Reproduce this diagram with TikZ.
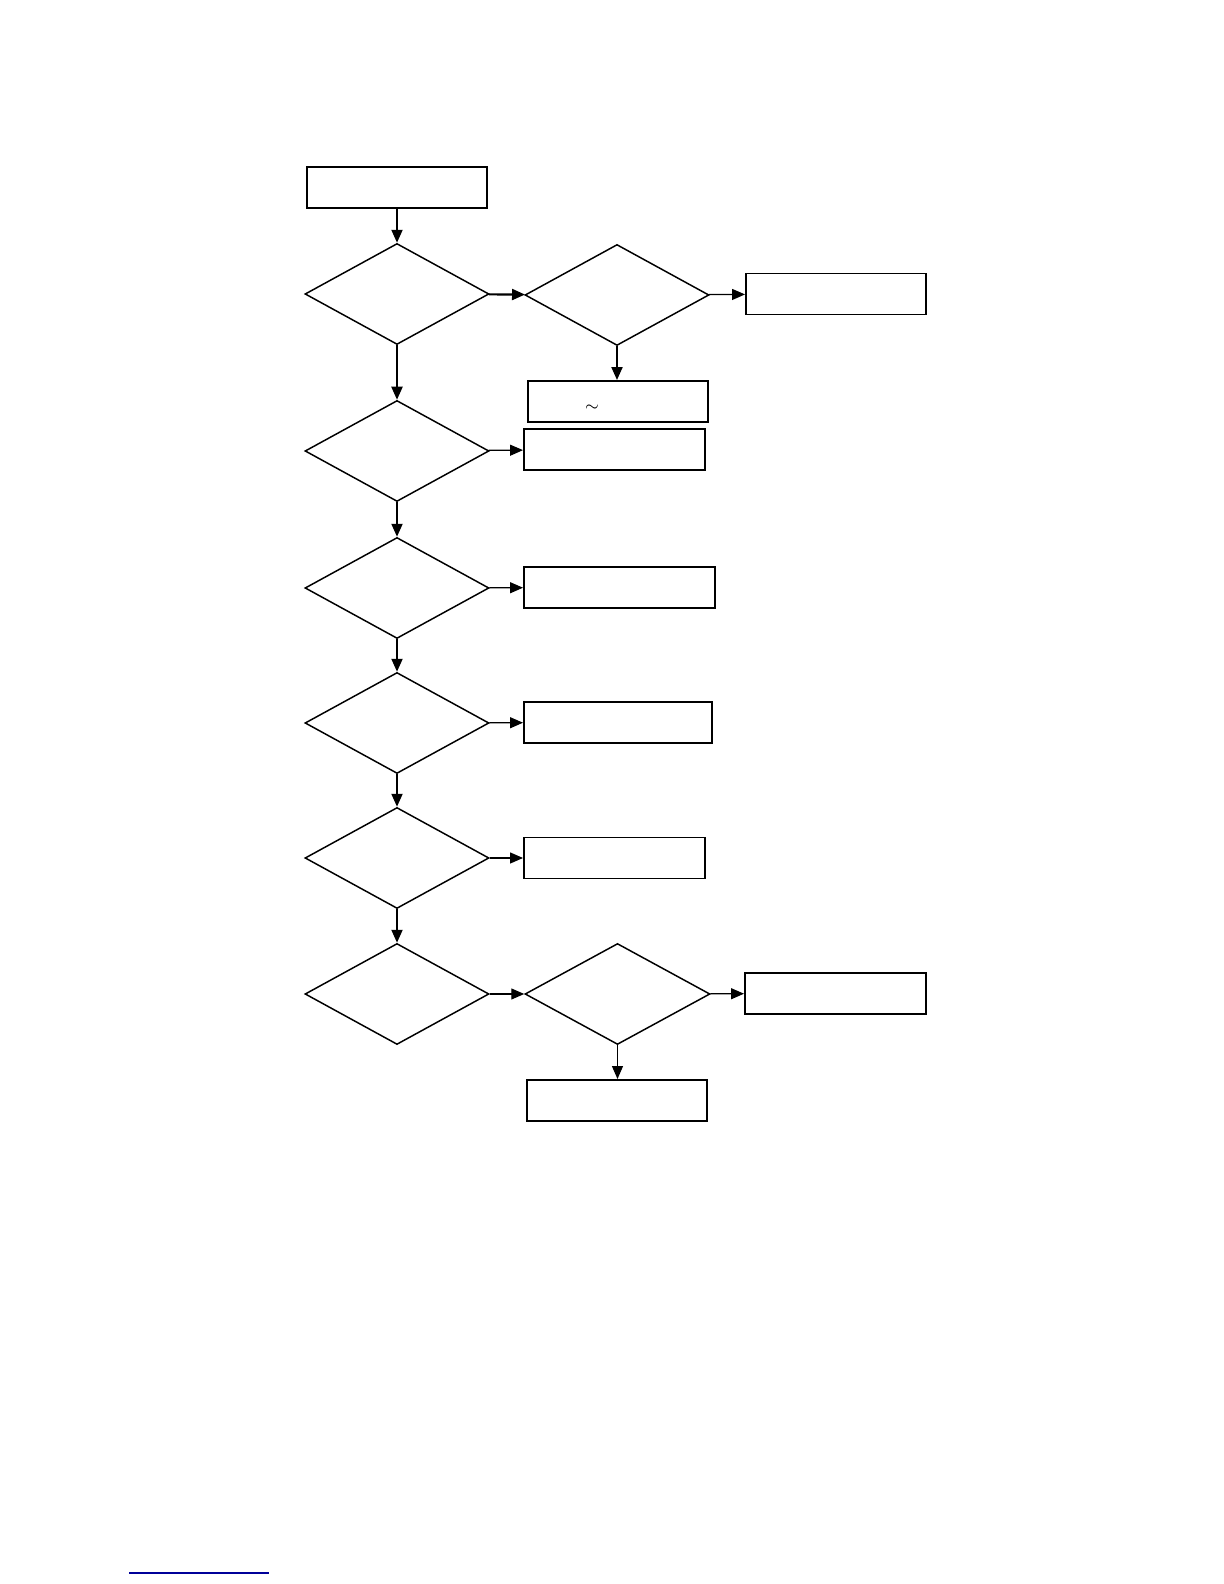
\documentclass[tikz,border=0pt]{standalone}
\usepackage{tikz}
\usetikzlibrary{shapes.geometric,arrows.meta}

\begin{document}
\begin{tikzpicture}[
    box/.style={draw, line width=0.55pt, inner sep=0pt, minimum width=1.80cm, minimum height=0.41cm},
    test/.style={draw, diamond, line width=0.42pt, inner sep=0pt, minimum width=1.84cm, minimum height=1.01cm},
    arrow/.style={-{Triangle[length=1.3mm, width=1.1mm]}, line width=0.6pt},
    thinarrow/.style={arrow, line width=0.35pt}
]
\useasboundingbox (0,0) rectangle (12.24,15.84);

\node[box] at (3.97,13.965) (start) {};

\node[test] at (3.97,12.90) (t1) {};
\node[test] at (6.17,12.89) (t1b) {};
\node[box] at (8.36,12.90) (r1) {};
\node[box] at (6.18,11.825) (s1) {};
\node[font=\tiny, scale=0.8] at (5.92,11.76) (tilde) {$\sim$};

\node[test] at (3.97,11.33) (t2) {};
\node[box, minimum width=1.81cm] at (6.145,11.345) (s2) {};

\node[test] at (3.97,9.96) (t3) {};
\node[box, minimum width=1.91cm] at (6.195,9.965) (s3) {};

\node[test] at (3.97,8.61) (t4) {};
\node[box, minimum width=1.88cm] at (6.18,8.615) (s4) {};

\node[test] at (3.97,7.26) (t5) {};
\node[box, minimum width=1.81cm] at (6.145,7.26) (s5) {};

\node[test] at (3.97,5.90) (t6) {};
\node[test, minimum width=1.85cm] at (6.175,5.90) (t6b) {};
\node[box, minimum width=1.81cm] at (8.355,5.905) (r6) {};
\node[box] at (6.17,4.835) (s6) {};

\coordinate (ul1) at (1.29,0.11);
\coordinate (ul2) at (2.69,0.11);

\draw[arrow] (start) -- (t1);
\draw[arrow] (t1) -- (t1b);
\draw[thinarrow] (t1b) -- (r1);
\draw[arrow] (t1b) -- (t1b |- s1.north);
\draw[arrow] (t1) -- (t2);
\draw[thinarrow] (t2) -- (s2);
\draw[arrow] (t2) -- (t3);
\draw[thinarrow] (t3) -- (s3);
\draw[arrow] (t3) -- (t4);
\draw[thinarrow] (t4) -- (s4);
\draw[arrow] (t4) -- (t5);
\draw[thinarrow] (t5) -- (s5);
\draw[arrow] (t5) -- (t6);
\draw[thinarrow] (t6) -- (t6b);
\draw[thinarrow] (t6b) -- (r6);
\draw[thinarrow] (t6b) -- (t6b |- s6.north);

\draw[blue!60!black, line width=0.4pt] (ul1) -- (ul2);
\end{tikzpicture}
\end{document}
